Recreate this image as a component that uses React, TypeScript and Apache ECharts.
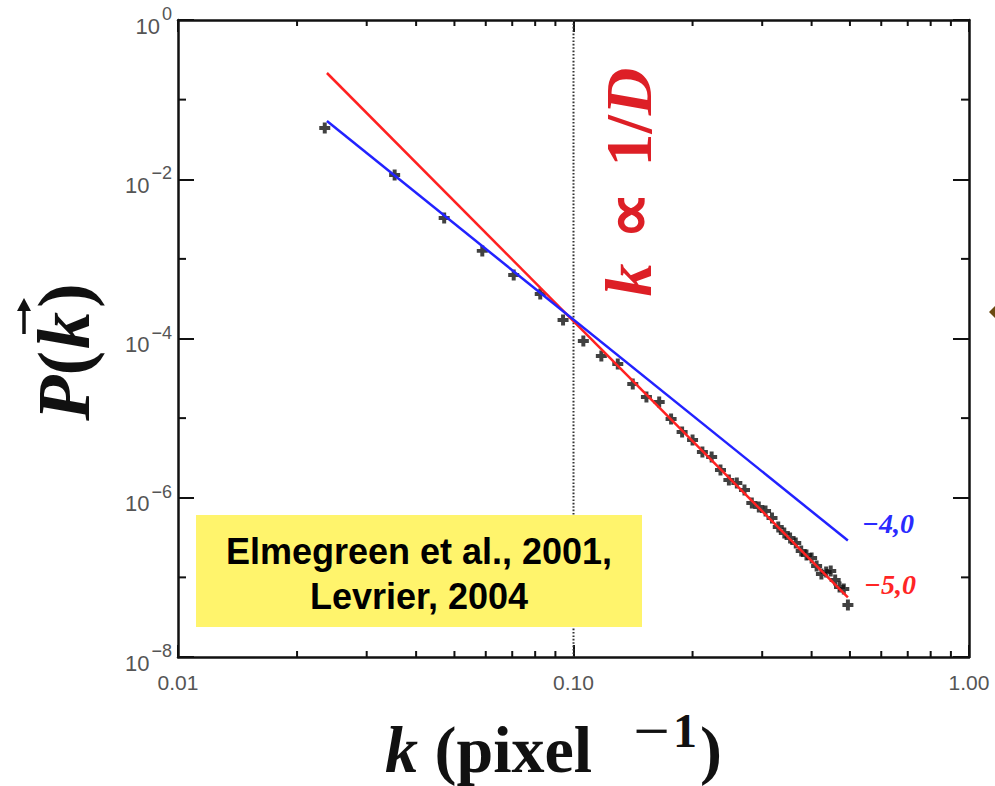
import React, { useEffect, useRef } from "react";
import * as echarts from "echarts";

// Spatial wavenumber k (pixel^-1) of each measured point
const wavenumbers = [
  0.0235, 0.0353, 0.0471, 0.0588, 0.0706, 0.0824, 0.0941, 0.1059, 0.1176, 0.1294,
  0.1412, 0.1529, 0.1647, 0.1765, 0.1882, 0.2, 0.2118, 0.2235, 0.2353, 0.2471,
  0.2588, 0.2706, 0.2824, 0.2941, 0.3059, 0.3176, 0.3294, 0.3412, 0.3529, 0.3647,
  0.3765, 0.3882, 0.4, 0.4118, 0.4235, 0.4353, 0.4471, 0.4588, 0.4706, 0.4824, 0.4941,
];

// Power spectrum P(k) at each wavenumber
const spectrum = [
  4.4e-2, 1.13e-2, 3.26e-3, 1.26e-3, 6.27e-4, 3.62e-4, 1.71e-4, 9.3e-5, 6.03e-5, 4.78e-5,
  2.68e-5, 1.84e-5, 1.59e-5, 9.75e-6, 6.69e-6, 5.31e-6, 3.75e-6, 3.25e-6, 2.23e-6, 1.67e-6,
  1.53e-6, 1.25e-6, 8.59e-7, 7.65e-7, 6.82e-7, 5.57e-7, 4.29e-7, 3.61e-7, 3.12e-7, 2.7e-7,
  2.14e-7, 1.91e-7, 1.75e-7, 1.39e-7, 1.1e-7, 1.17e-7, 1.2e-7, 9.27e-8, 7.57e-8, 7.14e-8, 4.5e-8,
];

// Power-law fits: end points of the slope -4 and slope -5 lines
const fitSlope4K = [0.0238, 0.494];
const fitSlope4P = [0.054, 2.9e-7];
const fitSlope5K = [0.0238, 0.494];
const fitSlope5P = [0.216, 5.6e-8];
const fitLabels = ["\u22124,0", "\u22125,0"];

// Break scale k ~ 1/D
const breakK = 0.1;

// Minor tick positions
const xMinorTicks = [0.02, 0.03, 0.04, 0.05, 0.06, 0.07, 0.08, 0.09, 0.2, 0.3, 0.4, 0.5, 0.6, 0.7, 0.8, 0.9];
const yMinorTicks = [1e-1, 1e-3, 1e-5, 1e-7];

const referenceLines = ["Elmegreen et al., 2001,", "Levrier, 2004"];

const X_MIN = 0.01;
const X_MAX = 1;
const Y_MIN = 1e-8;
const Y_MAX = 1;

export default function App() {
  const ref = useRef<HTMLDivElement>(null);

  useEffect(() => {
    const chart = echarts.init(ref.current as HTMLDivElement, null, { renderer: "svg" });
    const AXIS = "#111";
    const plus = "path://M3.2,0H6.8V3.2H10V6.8H6.8V10H3.2V6.8H0V3.2H3.2Z";
    const sans = "Liberation Sans";
    const serif = "Liberation Serif";
    const LABEL = "#555";

    const powerLabel = (v: number) => {
      const e = Math.round(Math.log10(v));
      return `{b|10}{s|${e === 0 ? "0" : "\u2212" + Math.abs(e)}}`;
    };

    const logAxisBase = {
      type: "log",
      logBase: 10,
      splitLine: { show: false },
      minorTick: { show: false },
      minorSplitLine: { show: false },
      axisLine: { show: true, onZero: false, lineStyle: { color: AXIS, width: 2.5 } },
    };

    const option: any = {
      animation: false,
      backgroundColor: "#ffffff",
      grid: { left: 178, top: 20, width: 791, height: 637, containLabel: false },
      xAxis: [
        {
          ...logAxisBase,
          min: X_MIN,
          max: X_MAX,
          interval: 1,
          position: "bottom",
          axisTick: { show: true, inside: true, length: 12, lineStyle: { color: AXIS, width: 2 } },
          axisLabel: {
            show: true,
            margin: 15,
            color: LABEL,
            fontSize: 21,
            fontFamily: sans,
            formatter: (v: number) => v.toFixed(2),
          },
        },
        {
          ...logAxisBase,
          min: X_MIN,
          max: X_MAX,
          interval: 1,
          position: "top",
          axisTick: { show: true, inside: true, length: 12, lineStyle: { color: AXIS, width: 2 } },
          axisLabel: { show: false },
        },
      ],
      yAxis: [
        {
          ...logAxisBase,
          min: Y_MIN,
          max: Y_MAX,
          interval: 2,
          position: "left",
          axisTick: { show: true, inside: true, length: 16, lineStyle: { color: AXIS, width: 2 } },
          axisLabel: {
            show: true,
            margin: 6,
            color: LABEL,
            fontSize: 22,
            fontFamily: sans,
            formatter: powerLabel,
            rich: {
              b: { fontSize: 22, fontFamily: sans, color: LABEL, padding: [12, 0, 0, 0] },
              s: { fontSize: 18, fontFamily: sans, color: LABEL, padding: [0, 0, 12, 2] },
            },
          },
        },
        {
          ...logAxisBase,
          min: Y_MIN,
          max: Y_MAX,
          interval: 2,
          position: "right",
          axisTick: { show: true, inside: true, length: 16, lineStyle: { color: AXIS, width: 2 } },
          axisLabel: { show: false },
        },
      ],
      series: [
        {
          name: "k minor ticks",
          type: "custom",
          silent: true,
          clip: false,
          data: xMinorTicks.map((v) => [v, Y_MIN]),
          renderItem: (_p: any, api: any) => {
            const x = api.value(0);
            const b = api.coord([x, Y_MIN]);
            const t = api.coord([x, Y_MAX]);
            return {
              type: "group",
              children: [
                { type: "line", shape: { x1: b[0], y1: b[1], x2: b[0], y2: b[1] - 6 }, style: { stroke: AXIS, lineWidth: 2 } },
                { type: "line", shape: { x1: t[0], y1: t[1], x2: t[0], y2: t[1] + 6 }, style: { stroke: AXIS, lineWidth: 2 } },
              ],
            };
          },
        },
        {
          name: "P minor ticks",
          type: "custom",
          silent: true,
          clip: false,
          data: yMinorTicks.map((v) => [X_MIN, v]),
          renderItem: (_p: any, api: any) => {
            const y = api.value(1);
            const l = api.coord([X_MIN, y]);
            const r = api.coord([X_MAX, y]);
            return {
              type: "group",
              children: [
                { type: "line", shape: { x1: l[0], y1: l[1], x2: l[0] + 8, y2: l[1] }, style: { stroke: AXIS, lineWidth: 2 } },
                { type: "line", shape: { x1: r[0], y1: r[1], x2: r[0] - 8, y2: r[1] }, style: { stroke: AXIS, lineWidth: 2 } },
              ],
            };
          },
        },
        {
          name: "k = 1/D",
          type: "line",
          silent: true,
          showSymbol: false,
          data: [
            [breakK, Y_MAX],
            [breakK, Y_MIN],
          ],
          lineStyle: { color: "#333", width: 2, type: [1.6, 1.8] },
        },
        {
          name: "P(k)",
          type: "scatter",
          symbol: plus,
          symbolSize: 11,
          data: wavenumbers.map((k, i) => [k, spectrum[i]]),
          itemStyle: { color: "#111" },
          z: 3,
        },
        {
          name: "slope -5",
          type: "line",
          showSymbol: false,
          data: fitSlope5K.map((k, i) => [k, fitSlope5P[i]]),
          lineStyle: { color: "#ff2121", width: 2.5 },
          z: 4,
        },
        {
          name: "slope -4",
          type: "line",
          showSymbol: false,
          data: fitSlope4K.map((k, i) => [k, fitSlope4P[i]]),
          lineStyle: { color: "#2222ff", width: 2.5 },
          z: 5,
        },
      ],
      graphic: [
        {
          type: "rect",
          z: 20,
          shape: { x: 196, y: 515, width: 446, height: 112 },
          style: { fill: "#fff46c" },
        },
        {
          type: "text",
          z: 21,
          x: 419,
          y: 551,
          style: {
            text: referenceLines[0],
            fill: "#000",
            font: `bold 36px "${sans}"`,
            textAlign: "center",
            textVerticalAlign: "middle",
          },
        },
        {
          type: "text",
          z: 21,
          x: 419,
          y: 596,
          style: {
            text: referenceLines[1],
            fill: "#000",
            font: `bold 36px "${sans}"`,
            textAlign: "center",
            textVerticalAlign: "middle",
          },
        },
        {
          type: "text",
          z: 21,
          x: 888,
          y: 523,
          style: {
            text: fitLabels[0],
            fill: "#2a2aff",
            font: `italic bold 28px "${serif}"`,
            textAlign: "center",
            textVerticalAlign: "middle",
          },
        },
        {
          type: "text",
          z: 21,
          x: 890,
          y: 584,
          style: {
            text: fitLabels[1],
            fill: "#ff2525",
            font: `italic bold 28px "${serif}"`,
            textAlign: "center",
            textVerticalAlign: "middle",
          },
        },
        // k ∝ 1/D, written upward beside the dotted line
        {
          type: "text",
          z: 21,
          x: 628,
          y: 182,
          rotation: Math.PI / 2,
          style: {
            text: "{i|k}{p|\u221d}{n|1/}{i|D}",
            fill: "#dd1f26",
            textAlign: "center",
            textVerticalAlign: "middle",
            rich: {
              i: { fontFamily: serif, fontStyle: "italic", fontWeight: "bold", fontSize: 66, fill: "#dd1f26" },
              n: { fontFamily: serif, fontWeight: "bold", fontSize: 66, fill: "#dd1f26" },
              p: { fontFamily: serif, fontWeight: "bold", fontSize: 66, fill: "#dd1f26", padding: [0, 25, 0, 25] },
            },
          },
        },
        // P(k) axis title with the vector arrow over k
        {
          type: "text",
          z: 21,
          x: 64,
          y: 352,
          rotation: Math.PI / 2,
          style: {
            text: "{i|P}{n|(}{k|k}{n|)}",
            fill: "#111",
            textAlign: "center",
            textVerticalAlign: "middle",
            rich: {
              i: { fontFamily: serif, fontStyle: "italic", fontWeight: "bold", fontSize: 74, fill: "#111" },
              k: { fontFamily: serif, fontStyle: "italic", fontWeight: "bold", fontSize: 74, fill: "#111", padding: [0, 4, 0, 2] },
              n: { fontFamily: serif, fontWeight: "bold", fontSize: 74, fill: "#111" },
            },
          },
        },
        {
          type: "line",
          z: 21,
          shape: { x1: 24, y1: 334, x2: 24, y2: 306 },
          style: { stroke: "#111", lineWidth: 3.5 },
        },
        {
          type: "polygon",
          z: 21,
          shape: { points: [[24, 298], [17, 311], [31, 311]] },
          style: { fill: "#111" },
        },
        // k (pixel^-1) axis title
        {
          type: "text",
          z: 21,
          x: 385,
          y: 749,
          style: {
            text: "{i|k}{n| (pixel}",
            fill: "#111",
            textAlign: "left",
            textVerticalAlign: "middle",
            rich: {
              i: { fontFamily: serif, fontStyle: "italic", fontWeight: "bold", fontSize: 66, fill: "#111" },
              n: { fontFamily: serif, fontWeight: "bold", fontSize: 66, fill: "#111" },
            },
          },
        },
        {
          type: "text",
          z: 21,
          x: 633,
          y: 731,
          scaleX: 1.35,
          style: {
            text: "\u2212",
            fill: "#111",
            font: `bold 48px "${serif}"`,
            textAlign: "left",
            textVerticalAlign: "middle",
          },
        },
        {
          type: "text",
          z: 21,
          x: 673,
          y: 730,
          style: {
            text: "1",
            fill: "#111",
            font: `bold 48px "${serif}"`,
            textAlign: "left",
            textVerticalAlign: "middle",
          },
        },
        {
          type: "text",
          z: 21,
          x: 700,
          y: 749,
          style: {
            text: ")",
            fill: "#111",
            font: `bold 66px "${serif}"`,
            textAlign: "left",
            textVerticalAlign: "middle",
          },
        },
        {
          type: "polygon",
          z: 21,
          shape: { points: [[995, 306], [989, 312], [995, 318]] },
          style: { fill: "#6b4a12" },
        },
      ],
    };

    chart.setOption(option);
    return () => chart.dispose();
  }, []);

  return (
    <div
      ref={ref}
      style={{ position: "fixed", left: 0, top: 0, width: 995, height: 786, background: "#fff" }}
    />
  );
}
